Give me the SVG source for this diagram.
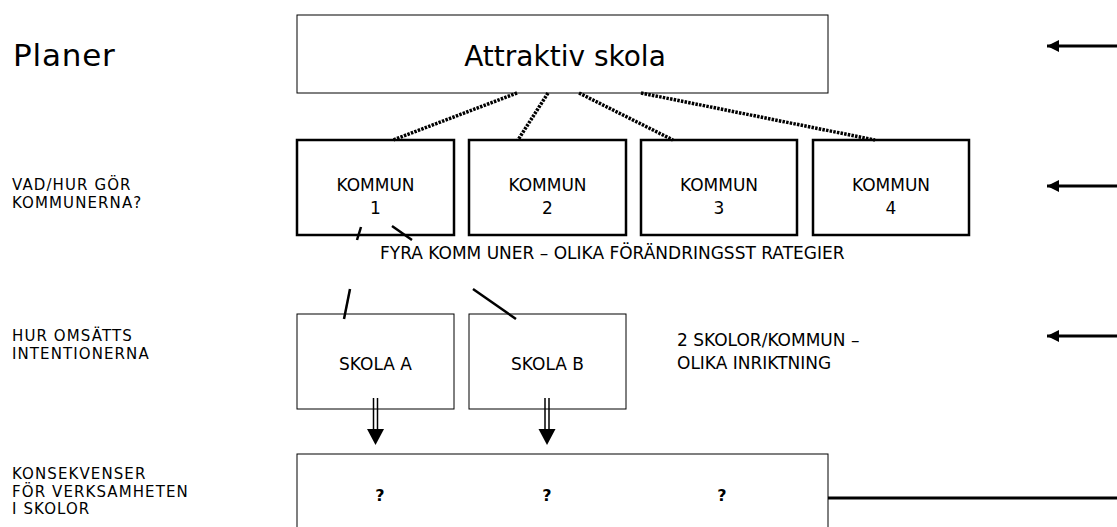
<svg xmlns="http://www.w3.org/2000/svg" width="1117" height="527" viewBox="0 0 1117 527">
<defs>
<style>
text{font-family:"DejaVu Sans",Verdana,sans-serif;fill:#000}
.lbl{font-size:17px}
.side{font-size:15px;letter-spacing:1.1px}
.box{fill:#fff;stroke:#000}
.thin{stroke-width:1}
.thick{stroke-width:2.5}
.dot{stroke:#000;stroke-width:3.5;stroke-dasharray:2.5 1.2;fill:none}
.slash{stroke:#000;stroke-width:2.5}
.arr{stroke:#000;stroke-width:3;fill:none}
.q{font-size:16px;font-weight:bold}
</style>
<marker id="ah" markerUnits="userSpaceOnUse" markerWidth="14" markerHeight="12" refX="12" refY="6" orient="auto">
<path d="M0,0 L12,6 L0,12 Z" fill="#000"/>
</marker>
</defs>
<rect width="1117" height="527" fill="#fff"/>
<g id="labels">
<text x="13" y="66" style="font-size:31px;letter-spacing:0.8px">Planer</text>
<text class="side" x="12" y="190">VAD/HUR GÖR</text>
<text class="side" x="12" y="207.5">KOMMUNERNA?</text>
<text class="side" x="12" y="341">HUR OMSÄTTS</text>
<text class="side" x="12" y="358.5">INTENTIONERNA</text>
<text class="side" x="12" y="479">KONSEKVENSER</text>
<text class="side" x="12" y="496.5">FÖR VERKSAMHETEN</text>
<text class="side" x="12" y="514">I SKOLOR</text>
<text class="lbl" x="677" y="346">2 SKOLOR/KOMMUN –</text>
<text class="lbl" x="677" y="369">OLIKA INRIKTNING</text>
<text class="lbl" x="380" y="259">FYRA KOMM UNER – OLIKA FÖRÄNDRINGSST RATEGIER</text>
</g>
<g id="top">
<rect class="box thin" x="297" y="15" width="531" height="78"/>
<text x="565" y="66" text-anchor="middle" style="font-size:28px">Attraktiv skola</text>
</g>
<g id="k1"><rect class="box thick" x="297" y="140" width="157" height="95"/><text class="lbl" text-anchor="middle" x="375.5" y="191">KOMMUN</text><text class="lbl" text-anchor="middle" x="375.5" y="214">1</text></g>
<g id="k2"><rect class="box thick" x="469" y="140" width="157" height="95"/><text class="lbl" text-anchor="middle" x="547.5" y="191">KOMMUN</text><text class="lbl" text-anchor="middle" x="547.5" y="214">2</text></g>
<g id="k3"><rect class="box thick" x="641" y="140" width="156" height="95"/><text class="lbl" text-anchor="middle" x="719" y="191">KOMMUN</text><text class="lbl" text-anchor="middle" x="719" y="214">3</text></g>
<g id="k4"><rect class="box thick" x="813" y="140" width="156" height="95"/><text class="lbl" text-anchor="middle" x="891" y="191">KOMMUN</text><text class="lbl" text-anchor="middle" x="891" y="214">4</text></g>
<g id="skolaA"><rect class="box thin" x="297" y="314" width="157" height="95"/><text class="lbl" text-anchor="middle" x="375.5" y="370">SKOLA A</text></g>
<g id="skolaB"><rect class="box thin" x="469" y="314" width="157" height="95"/><text class="lbl" text-anchor="middle" x="547.5" y="370">SKOLA B</text></g>
<g id="bottom">
<rect class="box thin" x="297" y="454" width="531" height="80"/>
<text class="q" x="380" y="501" text-anchor="middle">?</text>
<text class="q" x="547" y="501" text-anchor="middle">?</text>
<text class="q" x="722" y="501" text-anchor="middle">?</text>
</g>
<g id="connectors">
<line class="dot" x1="517" y1="93" x2="393" y2="140"/>
<line class="dot" x1="548" y1="93" x2="518" y2="140"/>
<line class="dot" x1="579" y1="93" x2="673" y2="140"/>
<line class="dot" x1="641" y1="93" x2="875" y2="140"/>
<line class="slash" x1="361" y1="227" x2="357" y2="240"/>
<line class="slash" x1="392" y1="226" x2="412" y2="240"/>
<line class="slash" x1="350" y1="289" x2="344" y2="319"/>
<line class="slash" x1="473" y1="289" x2="516" y2="319"/>
<line class="arr" x1="1117" y1="46" x2="1047" y2="46" marker-end="url(#ah)"/>
<line class="arr" x1="1117" y1="186" x2="1047" y2="186" marker-end="url(#ah)"/>
<line class="arr" x1="1117" y1="336" x2="1047" y2="336" marker-end="url(#ah)"/>
<line class="arr" x1="828" y1="498" x2="1117" y2="498"/>
<g id="darrows">
<line x1="373.5" y1="398" x2="373.5" y2="430" stroke="#000" stroke-width="1.5"/>
<line x1="377.5" y1="398" x2="377.5" y2="430" stroke="#000" stroke-width="1.5"/>
<path d="M367,429 L384,429 L375.5,445 Z" fill="#000"/>
<line x1="545" y1="398" x2="545" y2="430" stroke="#000" stroke-width="1.5"/>
<line x1="549" y1="398" x2="549" y2="430" stroke="#000" stroke-width="1.5"/>
<path d="M538.5,429 L555.5,429 L547,445 Z" fill="#000"/>
</g>
</g>
</svg>
